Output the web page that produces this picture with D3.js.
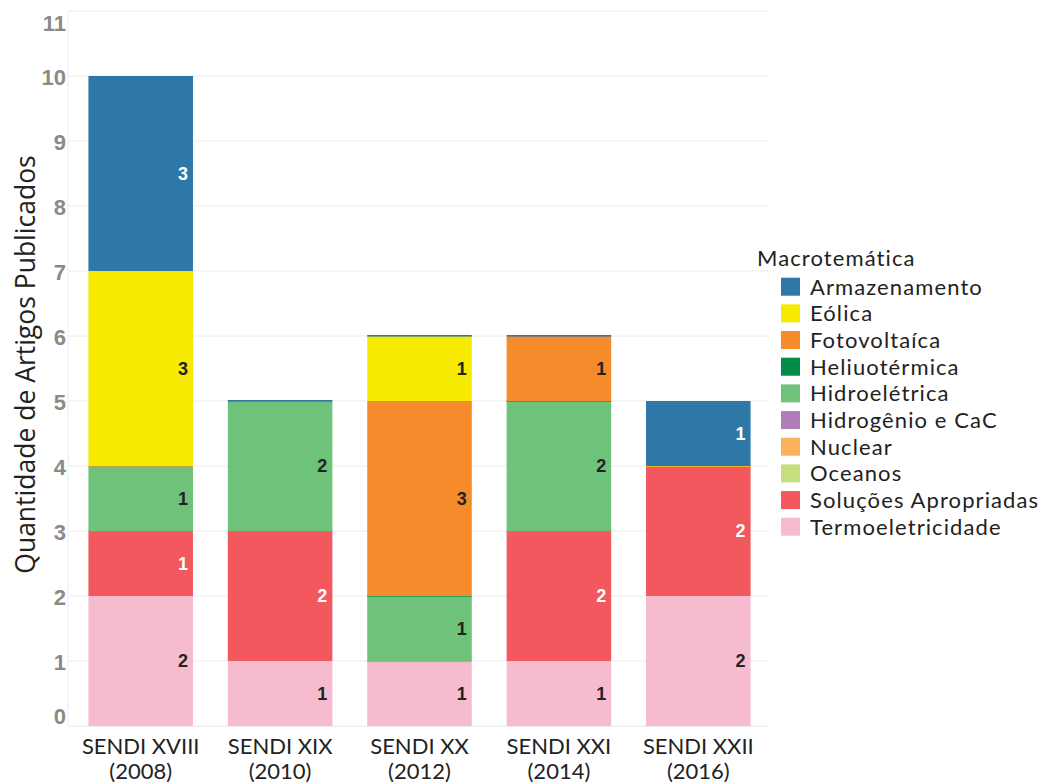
<!DOCTYPE html>
<html><head><meta charset="utf-8">
<script src="https://cdn.jsdelivr.net/npm/d3@7"></script>
<style>body{margin:0;background:#fff}</style>
</head><body>
<svg id="c" width="1044" height="784"></svg>
<script>
const editions = ["SENDI XVIII", "SENDI XIX", "SENDI XX", "SENDI XXI", "SENDI XXII"];
const years = ["(2008)", "(2010)", "(2012)", "(2014)", "(2016)"];
// stack order bottom -> top; null = absent, 0 = present with zero articles
const themes = ["Termoeletricidade","Soluções Apropriadas","Oceanos","Nuclear","Hidrogênio e CaC","Hidroelétrica","Heliuotérmica","Fotovoltaíca","Eólica","Armazenamento"];
const colors = ["#f7bbd0","#f2585d","#c5df7e","#fbb25c","#b07db8","#6fc27a","#008c45","#f68b2c","#f5ea00","#2e78a8"];
const termoeletricidade = [2, 1, 1, 1, 2];
const solucoes          = [1, 2, null, 2, 2];
const oceanos           = [null, null, null, null, null];
const nuclear           = [null, null, null, null, null];
const hidrogenio        = [0, 0, 0, 0, null];
const hidroeletrica     = [1, 2, 1, 2, null];
const heliotermica      = [null, null, 0, 0, null];
const fotovoltaica      = [0, null, 3, 1, null];
const eolica            = [3, null, 1, null, 0];
const armazenamento     = [3, 0, 0, 0, 1];
const series = [termoeletricidade, solucoes, oceanos, nuclear, hidrogenio, hidroeletrica, heliotermica, fotovoltaica, eolica, armazenamento];
const yTicks = [0,1,2,3,4,5,6,7,8,9,10,11];
const whiteLabel = new Set(["Armazenamento","Soluções Apropriadas"]);

(function(){
const svg = d3.select("#c");
const pL = 71, pR = 768, pT = 11, pB = 726;
const x = d3.scaleBand().domain(editions).range([pL, pR]).paddingInner(0.25).paddingOuter(0.125);
const y = d3.scaleLinear().domain([0, 11]).range([pB, pT]);

// grid
svg.append("g").selectAll("line").data(yTicks).join("line")
  .attr("x1", pL - 3).attr("x2", pR).attr("y1", d => y(d)).attr("y2", d => y(d))
  .attr("stroke", "#ececec").attr("stroke-width", 1);
svg.append("line").attr("x1", pL - 3).attr("x2", pL - 3).attr("y1", pT).attr("y2", pB)
  .attr("stroke", "#ececec");

// y axis
const yAxis = svg.append("g").attr("transform", `translate(${pL - 5},0)`)
  .call(d3.axisLeft(y).tickValues(yTicks).tickSize(0).tickPadding(0));
yAxis.select(".domain").remove();
yAxis.selectAll("text").attr("font-family", "Liberation Sans, Arial, sans-serif")
  .attr("font-weight", "bold").attr("font-size", 22).attr("fill", "#8a8a8a")
  .attr("dy", d => d === 0 ? "-0.1em" : d === 11 ? "0.9em" : "0.4em");

// x axis
const xAxis = svg.append("g").attr("transform", `translate(0,${pB})`)
  .call(d3.axisBottom(x).tickSize(0).tickFormat(() => ""));
xAxis.select(".domain").attr("stroke", "#ececec");
const xl = svg.append("g").selectAll("text").data(editions).join("text")
  .attr("x", d => x(d) + x.bandwidth() / 2).attr("text-anchor", "middle")
  .attr("font-family", "Lato, sans-serif").attr("font-size", 22).attr("fill", "#222");
xl.append("tspan").attr("x", d => x(d) + x.bandwidth() / 2).attr("y", 754).text(d => d);
xl.append("tspan").attr("x", d => x(d) + x.bandwidth() / 2).attr("y", 779).text((d, i) => years[i]);

// bars
const g = svg.append("g");
editions.forEach((ed, i) => {
  let cum = 0;
  series.forEach((s, k) => {
    const v = s[i];
    if (v === null) return;
    const y0 = cum, y1 = cum + v;
    cum = y1;
    if (v === 0) {
      g.append("rect").attr("x", x(ed)).attr("width", x.bandwidth())
        .attr("y", y(y0) - 1).attr("height", 1.6).attr("fill", colors[k]);
      return;
    }
    g.append("rect").attr("x", x(ed)).attr("width", x.bandwidth())
      .attr("y", y(y1)).attr("height", y(y0) - y(y1)).attr("fill", colors[k]);
    g.append("text").attr("x", x(ed) + x.bandwidth() - 5).attr("y", y((y0 + y1) / 2))
      .attr("dy", "0.36em").attr("text-anchor", "end")
      .attr("font-family", "Liberation Sans, Arial, sans-serif").attr("font-weight", "bold")
      .attr("font-size", 18).attr("fill", whiteLabel.has(themes[k]) ? "#fff" : "#222").text(v);
  });
});

// y title
svg.append("text").attr("transform", `translate(35,${(pT + pB) / 2 - 4}) rotate(-90)`)
  .attr("text-anchor", "middle").attr("font-family", "Open Sans, sans-serif").attr("font-size", 26.5)
  .attr("fill", "#222").text("Quantidade de Artigos Publicados");

// legend
const lg = svg.append("g");
lg.append("text").attr("x", 757).attr("y", 266).attr("font-family", "Lato, sans-serif")
  .attr("font-size", 22).attr("letter-spacing", 1.1).attr("fill", "#222").text("Macrotemática");
const legendOrder = themes.map((t, k) => k).reverse();
legendOrder.forEach((k, j) => {
  const yy = 277.7 + j * 26.67;
  lg.append("rect").attr("x", 781).attr("y", yy).attr("width", 19).attr("height", 18).attr("fill", colors[k]);
  lg.append("text").attr("x", 810).attr("y", yy + 9).attr("dy", "0.36em")
    .attr("font-family", "Lato, sans-serif").attr("font-size", 22).attr("letter-spacing", 1.1)
    .attr("fill", "#222").text(themes[k]);
});
})();
</script>
</body></html>
